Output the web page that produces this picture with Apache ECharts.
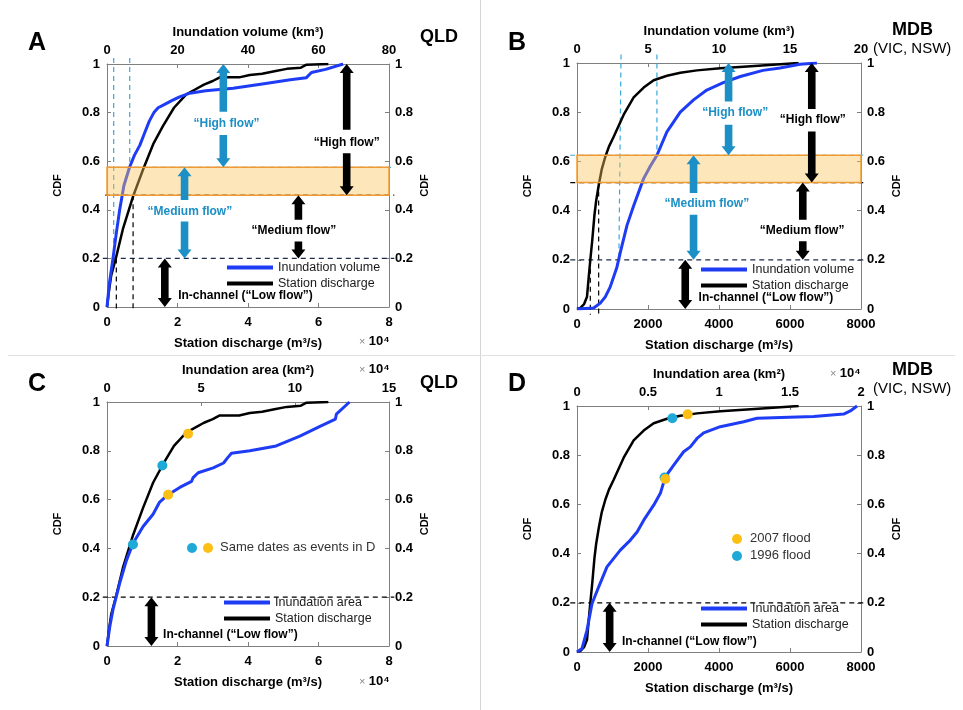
<!DOCTYPE html>
<html>
<head>
<meta charset="utf-8">
<script src="https://cdn.jsdelivr.net/npm/echarts@6/dist/echarts.min.js"></script>
<style>
html, body { margin: 0; padding: 0; background: #fff; }
#chart { width: 963px; height: 710px; }
</style>
</head>
<body>
<div id="chart"></div>
<script>
// CDF curves, pairs of [value, cdf]
// station discharge QLD, x 10^4 m3/s (panels A and C)
const qldDischarge = [[0,0],[0.05,0.06],[0.12,0.13],[0.25,0.2],[0.45,0.32],[0.74,0.455],[1.02,0.565],[1.31,0.67],[1.59,0.745],[1.9,0.82],[2.25,0.875],[2.5,0.895],[2.75,0.915],[3.0,0.93],[3.2,0.945],[3.75,0.945],[4.05,0.955],[4.4,0.96],[4.75,0.97],[5.1,0.98],[5.5,0.985],[5.66,0.997],[6.28,1.0]];
// inundation volume QLD, km3 (panel A)
const qldVolume = [[0,0],[0.7,0.1],[1.7,0.2],[2.6,0.3],[3.6,0.4],[4.8,0.5],[6.4,0.575],[7.8,0.625],[9.3,0.665],[10.5,0.71],[12,0.765],[13.3,0.8],[14.5,0.82],[16.5,0.835],[18.5,0.85],[20.6,0.865],[23.5,0.88],[28,0.89],[35.8,0.9],[45,0.92],[52,0.935],[56.5,0.943],[58,0.965],[62,0.978],[67,1.0]];
// inundation area QLD, x 10^4 km2 (panel C)
const qldArea = [[0,0],[0.15,0.08],[0.32,0.15],[0.67,0.256],[1.03,0.35],[1.38,0.42],[1.92,0.49],[2.45,0.54],[2.8,0.59],[3.25,0.62],[3.87,0.65],[4.5,0.675],[4.58,0.69],[4.85,0.71],[5.65,0.73],[6.2,0.75],[6.4,0.77],[6.62,0.79],[7.6,0.8],[9.0,0.82],[10.26,0.86],[11.33,0.9],[12.15,0.93],[12.2,0.95],[12.9,1.0]];
// station discharge MDB, m3/s (panels B and D)
const mdbDischarge = [[0,0],[90,0.004],[200,0.02],[282,0.05],[330,0.13],[375,0.2],[430,0.28],[490,0.38],[540,0.44],[620,0.51],[700,0.57],[800,0.62],[900,0.66],[1033,0.7],[1315,0.79],[1596,0.86],[1878,0.9],[2160,0.93],[2535,0.948],[2911,0.96],[3380,0.97],[4037,0.979],[4789,0.986],[5728,0.995],[6244,1.0]];
// inundation volume MDB, km3 (panel B)
const mdbVolume = [[0,0],[1.17,0.004],[1.64,0.024],[2.0,0.05],[2.34,0.09],[2.81,0.17],[3.05,0.23],[3.52,0.34],[3.99,0.42],[4.69,0.53],[5.16,0.58],[5.63,0.625],[6.33,0.72],[7.27,0.8],[8.21,0.85],[9.14,0.89],[10.3,0.92],[11.5,0.945],[13.1,0.97],[14.3,0.98],[15.7,0.995],[16.9,1.0]];
// inundation area MDB, x 10^4 km2 (panel D)
const mdbArea = [[0,0],[0.035,0.014],[0.07,0.088],[0.106,0.197],[0.153,0.265],[0.211,0.346],[0.305,0.414],[0.376,0.455],[0.423,0.488],[0.47,0.536],[0.54,0.597],[0.587,0.645],[0.622,0.712],[0.681,0.76],[0.751,0.814],[0.798,0.834],[0.845,0.868],[0.892,0.891],[1.009,0.916],[1.174,0.936],[1.268,0.95],[1.667,0.957],[1.878,0.967],[1.925,0.98],[1.972,1.0]];

// flood events (1996 = cyan, 2007 = orange)
const qld1996 = { discharge: [[1.57, 0.74]], area: [[1.38, 0.416]] };
const qld2007 = { discharge: [[2.3, 0.87]], area: [[3.25, 0.62]] };
const mdb1996 = { discharge: [[2685, 0.95]], area: [[0.617, 0.709]] };
const mdb2007 = { discharge: [[3117, 0.966]], area: [[0.622, 0.703]] };

// flow class thresholds (cdf)
const qldThresholds = { low: 0.2, medBlack: 0.46, medCyan: 0.575 };
const mdbThresholds = { low: 0.2, medBlack: 0.514, medCyan: 0.625 };

const blue = '#1f3cf5';
const cyan = '#1b8fc6';
const cyanDash = '#3aa8dc';
const orangeDot = '#fcbf13';
const cyanDot = '#1fa9d6';
const FONT = '"Liberation Sans", Arial, sans-serif';

const chart = echarts.init(document.getElementById('chart'));

const grids = [
  { left: 107, top: 64, width: 282, height: 243 },
  { left: 577, top: 63, width: 284, height: 246 },
  { left: 107, top: 402, width: 282, height: 244 },
  { left: 577, top: 406, width: 284, height: 246 }
];

const panels = [
  {
    xMax: 8, xStep: 2, tMax: 80, tStep: 20,
    xName: 'Station discharge (m³/s)', tName: 'Inundation volume (km³)',
    topName: 'Inundation volume', discharge: qldDischarge, inund: qldVolume,
    guides: [
      [-0.12, qldThresholds.low, 8.15, qldThresholds.low, '#1c2b4a'],
      [-0.05, qldThresholds.medBlack, 8.15, qldThresholds.medBlack, '#000'],
      [0, qldThresholds.medCyan, 8.15, qldThresholds.medCyan, cyanDash],
      [0.19, 1.025, 0.19, qldThresholds.low, cyanDash],
      [0.645, 1.025, 0.645, qldThresholds.medCyan, cyanDash],
      [0.265, qldThresholds.low, 0.265, -0.015, '#000'],
      [0.74, qldThresholds.medBlack, 0.74, -0.015, '#000']
    ],
    band: [0, qldThresholds.medBlack, 8, qldThresholds.medCyan],
    arrows: [
      { x: 3.3, y0: qldThresholds.medCyan, y1: 1, gap: [0.708, 0.804], color: cyan },
      { x: 2.2, y0: 0.2, y1: qldThresholds.medCyan, gap: [0.352, 0.44], color: cyan },
      { x: 6.8, y0: qldThresholds.medBlack, y1: 1, gap: [0.633, 0.729], color: '#000' },
      { x: 5.43, y0: 0.2, y1: qldThresholds.medBlack, gap: [0.27, 0.359], color: '#000' },
      { x: 1.64, y0: 0, y1: 0.2, color: '#000' }
    ],
    labels: [
      { x: 3.39, y: 0.756, text: '“High flow”', color: cyan },
      { x: 2.35, y: 0.393, text: '“Medium flow”', color: cyan },
      { x: 6.8, y: 0.677, text: '“High flow”', color: '#000' },
      { x: 5.3, y: 0.314, text: '“Medium flow”', color: '#000' },
      { x: 2.02, y: 0.047, text: 'In-channel (“Low flow”)', color: '#000', low: true }
    ]
  },
  {
    xMax: 8000, xStep: 2000, tMax: 20, tStep: 5,
    xName: 'Station discharge (m³/s)', tName: 'Inundation volume (km³)',
    topName: 'Inundation volume', discharge: mdbDischarge, inund: mdbVolume,
    guides: [
      [-190, mdbThresholds.low, 8075, mdbThresholds.low, '#1c2b4a'],
      [-190, mdbThresholds.medBlack, 8075, mdbThresholds.medBlack, '#000'],
      [-190, mdbThresholds.medCyan, 8075, mdbThresholds.medCyan, cyanDash],
      [1240, 1.035, 1180, mdbThresholds.low, cyanDash],
      [2251, 1.035, 2251, mdbThresholds.medCyan, cyanDash],
      [375, mdbThresholds.low, 375, -0.023, '#000'],
      [610, mdbThresholds.medBlack, 610, -0.023, '#000']
    ],
    band: [0, mdbThresholds.medBlack, 8000, mdbThresholds.medCyan],
    arrows: [
      { x: 4270, y0: mdbThresholds.medCyan, y1: 1, gap: [0.749, 0.844], color: cyan },
      { x: 3283, y0: 0.2, y1: mdbThresholds.medCyan, gap: [0.383, 0.472], color: cyan },
      { x: 6613, y0: mdbThresholds.medBlack, y1: 1, gap: [0.722, 0.813], color: '#000' },
      { x: 6360, y0: 0.2, y1: mdbThresholds.medBlack, gap: [0.275, 0.363], color: '#000' },
      { x: 3049, y0: 0, y1: 0.2, color: '#000' }
    ],
    labels: [
      { x: 4456, y: 0.797, text: '“High flow”', color: cyan },
      { x: 3658, y: 0.43, text: '“Medium flow”', color: cyan },
      { x: 6640, y: 0.77, text: '“High flow”', color: '#000' },
      { x: 6340, y: 0.318, text: '“Medium flow”', color: '#000' },
      { x: 3424, y: 0.047, text: 'In-channel (“Low flow”)', color: '#000', low: true }
    ]
  },
  {
    xMax: 8, xStep: 2, tMax: 15, tStep: 5,
    xName: 'Station discharge (m³/s)', tName: 'Inundation area (km²)',
    topName: 'Inundation area', discharge: qldDischarge, inund: qldArea,
    ev1996: qld1996, ev2007: qld2007,
    guides: [
      [-0.12, qldThresholds.low, 8.15, qldThresholds.low, '#000']
    ],
    arrows: [
      { x: 1.26, y0: 0, y1: 0.2, color: '#000' }
    ],
    labels: [
      { x: 1.59, y: 0.047, text: 'In-channel (“Low flow”)', color: '#000', low: true }
    ]
  },
  {
    xMax: 8000, xStep: 2000, tMax: 2, tStep: 0.5,
    xName: 'Station discharge (m³/s)', tName: 'Inundation area (km²)',
    topName: 'Inundation area', discharge: mdbDischarge, inund: mdbArea,
    ev1996: mdb1996, ev2007: mdb2007,
    guides: [
      [-190, mdbThresholds.low, 8075, mdbThresholds.low, '#000']
    ],
    arrows: [
      { x: 920, y0: 0, y1: 0.2, color: '#000' }
    ],
    labels: [
      { x: 1268, y: 0.043, text: 'In-channel (“Low flow”)', color: '#000', low: true }
    ]
  }
];

const axisLine = { show: true, onZero: false, lineStyle: { color: '#7f7f7f', width: 1 } };
const axisTick = { show: true, inside: true, length: 4, lineStyle: { color: '#7f7f7f' } };
const tickFont = { color: '#000', fontFamily: FONT, fontWeight: 'bold', fontSize: 13 };
const nameFont = { color: '#000', fontFamily: FONT, fontWeight: 'bold', fontSize: 13 };
const cdfFont = { color: '#000', fontFamily: FONT, fontWeight: 'bold', fontSize: 11 };

const xAxes = [], yAxes = [], series = [];

function guideRender(list) {
  return function (params, api) {
    const g = list[params.dataIndex];
    const p0 = api.coord([g[0], g[1]]), p1 = api.coord([g[2], g[3]]);
    return {
      type: 'line',
      shape: { x1: p0[0], y1: p0[1], x2: p1[0], y2: p1[1] },
      style: { stroke: g[4], lineWidth: 1.2, lineDash: [5, 4] }
    };
  };
}

function bandRender(b) {
  return function (params, api) {
    const p0 = api.coord([b[0], b[1]]), p1 = api.coord([b[2], b[3]]);
    return {
      type: 'rect',
      shape: { x: p0[0], y: p1[1], width: p1[0] - p0[0], height: p0[1] - p1[1] },
      style: { fill: 'rgba(251, 196, 90, 0.42)', stroke: '#f29a32', lineWidth: 1.5 }
    };
  };
}

function arrowRender(list) {
  return function (params, api) {
    const a = list[params.dataIndex];
    const sw = 3.8, hw = 7, hl = 9;
    const top = api.coord([a.x, a.y1]), bot = api.coord([a.x, a.y0]);
    const cx = top[0];
    const pieces = [];
    const t = top[1], b = bot[1];
    if (a.gap) {
      const gTop = api.coord([a.x, a.gap[1]])[1];
      const gBot = api.coord([a.x, a.gap[0]])[1];
      pieces.push([[cx - sw, gTop], [cx - sw, t + hl], [cx - hw, t + hl], [cx, t], [cx + hw, t + hl], [cx + sw, t + hl], [cx + sw, gTop]]);
      pieces.push([[cx - sw, gBot], [cx - sw, b - hl], [cx - hw, b - hl], [cx, b], [cx + hw, b - hl], [cx + sw, b - hl], [cx + sw, gBot]]);
    } else {
      pieces.push([[cx - sw, b - hl], [cx - sw, t + hl], [cx - hw, t + hl], [cx, t], [cx + hw, t + hl], [cx + sw, t + hl],
        [cx + sw, b - hl], [cx + hw, b - hl], [cx, b], [cx - hw, b - hl]]);
    }
    return {
      type: 'group',
      children: pieces.map(p => ({ type: 'polygon', shape: { points: p }, style: { fill: a.color } }))
    };
  };
}

function labelRender(list) {
  return function (params, api) {
    const l = list[params.dataIndex];
    const p = api.coord([l.x, l.y]);
    return {
      type: 'text',
      x: p[0], y: p[1],
      style: {
        text: l.text,
        fill: l.color,
        fontFamily: FONT,
        fontWeight: 'bold',
        fontSize: 12,
        align: l.low ? 'left' : 'center',
        verticalAlign: 'middle'
      }
    };
  };
}

panels.forEach((p, k) => {
  const bx = 2 * k, tx = 2 * k + 1, ly = 2 * k;
  xAxes.push({
    gridIndex: k, type: 'value', position: 'bottom', min: 0, max: p.xMax, interval: p.xStep,
    name: p.xName, nameLocation: 'middle', nameGap: 30, nameTextStyle: nameFont,
    axisLine, axisTick, splitLine: { show: false },
    axisLabel: Object.assign({ margin: 9, formatter: v => String(v) }, tickFont)
  });
  xAxes.push({
    gridIndex: k, type: 'value', position: 'top', min: 0, max: p.tMax, interval: p.tStep,
    name: p.tName, nameLocation: 'middle', nameGap: 25, nameTextStyle: nameFont,
    axisLine, axisTick, splitLine: { show: false },
    axisLabel: Object.assign({ margin: 7, formatter: v => String(v) }, tickFont)
  });
  yAxes.push({
    gridIndex: k, type: 'value', position: 'left', min: 0, max: 1, interval: 0.2,
    name: 'CDF', nameLocation: 'middle', nameGap: 44, nameRotate: 90, nameTextStyle: cdfFont,
    axisLine, axisTick, splitLine: { show: false },
    axisLabel: Object.assign({ margin: 7 }, tickFont)
  });
  yAxes.push({
    gridIndex: k, type: 'value', position: 'right', min: 0, max: 1, interval: 0.2,
    name: 'CDF', nameLocation: 'middle', nameGap: 30, nameRotate: 90, nameTextStyle: cdfFont,
    axisLine, axisTick, splitLine: { show: false },
    axisLabel: Object.assign({ margin: 6 }, tickFont)
  });

  series.push({
    type: 'custom', name: 'guides' + k, xAxisIndex: bx, yAxisIndex: ly, z: 1, silent: true,
    renderItem: guideRender(p.guides), data: p.guides.map(g => [g[0], g[1]])
  });
  series.push({
    type: 'line', name: p.topName, xAxisIndex: tx, yAxisIndex: ly, z: 3,
    data: p.inund, showSymbol: false, color: blue, lineStyle: { width: 3, color: blue }
  });
  series.push({
    type: 'line', name: 'Station discharge', xAxisIndex: bx, yAxisIndex: ly, z: 2,
    data: p.discharge, showSymbol: false, color: '#000', lineStyle: { width: 2.5, color: '#000' }
  });
  if (p.band) {
    series.push({
      type: 'custom', name: 'band' + k, xAxisIndex: bx, yAxisIndex: ly, z: 4, silent: true,
      renderItem: bandRender(p.band), data: [[p.band[0], p.band[1]]]
    });
  }
  series.push({
    type: 'custom', name: 'arrows' + k, xAxisIndex: bx, yAxisIndex: ly, z: 5, silent: true,
    renderItem: arrowRender(p.arrows), data: p.arrows.map(a => [a.x, a.y0])
  });
  series.push({
    type: 'custom', name: 'labels' + k, xAxisIndex: bx, yAxisIndex: ly, z: 6, silent: true,
    renderItem: labelRender(p.labels), data: p.labels.map(l => [l.x, l.y])
  });
  if (p.ev1996) {
    const dot = (data, xi, color) => ({
      type: 'scatter', name: 'event' + k + xi + color, xAxisIndex: xi, yAxisIndex: ly, z: 7,
      data, symbolSize: 10, itemStyle: { color, opacity: 1 }
    });
    series.push(dot(p.ev1996.discharge, bx, cyanDot));
    series.push(dot(p.ev2007.discharge, bx, orangeDot));
    series.push(dot(p.ev1996.area, tx, cyanDot));
    series.push(dot(p.ev2007.area, tx, orangeDot));
  }
});

const legendPos = [[222, 256], [696, 258], [219, 591], [696, 597]];
const legends = panels.map((p, k) => ({
  orient: 'vertical', left: legendPos[k][0], top: legendPos[k][1],
  data: [p.topName, 'Station discharge'],
  icon: 'rect', itemWidth: 46, itemHeight: 4, itemGap: 3,
  selectedMode: false,
  textStyle: { color: '#1a1a1a', fontFamily: FONT, fontSize: 12.5, padding: [0, 0, 0, 0] }
}));

const letterStyle = { fill: '#000', font: 'bold 25px ' + FONT };
const regionStyle = { fill: '#000', font: 'bold 18px ' + FONT };
const subStyle = { fill: '#000', font: '15px ' + FONT };
const tenPow = (x, y) => ({
  type: 'text', left: x, top: y,
  style: {
    text: '{x|×} {t|10⁴}',
    rich: {
      x: { fill: '#888', fontSize: 11, fontFamily: FONT },
      t: { fill: '#000', fontSize: 13, fontWeight: 'bold', fontFamily: FONT }
    }
  }
});

const graphic = [
  { type: 'line', shape: { x1: 480.5, y1: 0, x2: 480.5, y2: 710 }, style: { stroke: '#d4d4d4', lineWidth: 1 } },
  { type: 'line', shape: { x1: 8, y1: 355.5, x2: 955, y2: 355.5 }, style: { stroke: '#e2e2e2', lineWidth: 1 } },
  { type: 'text', left: 28, top: 31, style: Object.assign({ text: 'A' }, letterStyle) },
  { type: 'text', left: 508, top: 31, style: Object.assign({ text: 'B' }, letterStyle) },
  { type: 'text', left: 28, top: 372, style: Object.assign({ text: 'C' }, letterStyle) },
  { type: 'text', left: 508, top: 372, style: Object.assign({ text: 'D' }, letterStyle) },
  { type: 'text', left: 420, top: 28, style: Object.assign({ text: 'QLD' }, regionStyle) },
  { type: 'text', left: 420, top: 374, style: Object.assign({ text: 'QLD' }, regionStyle) },
  { type: 'text', left: 892, top: 21, style: Object.assign({ text: 'MDB' }, regionStyle) },
  { type: 'text', left: 873, top: 41, style: Object.assign({ text: '(VIC, NSW)' }, subStyle) },
  { type: 'text', left: 892, top: 361, style: Object.assign({ text: 'MDB' }, regionStyle) },
  { type: 'text', left: 873, top: 381, style: Object.assign({ text: '(VIC, NSW)' }, subStyle) },
  tenPow(359, 335),
  tenPow(359, 363),
  tenPow(359, 675),
  tenPow(830, 367),
  { type: 'circle', shape: { cx: 192, cy: 548, r: 5 }, style: { fill: cyanDot } },
  { type: 'circle', shape: { cx: 208, cy: 548, r: 5 }, style: { fill: orangeDot } },
  { type: 'text', left: 220, top: 541, style: { text: 'Same dates as events in D', fill: '#333', font: '13px ' + FONT } },
  { type: 'circle', shape: { cx: 737, cy: 539, r: 5 }, style: { fill: orangeDot } },
  { type: 'text', left: 750, top: 532, style: { text: '2007 flood', fill: '#333', font: '13px ' + FONT } },
  { type: 'circle', shape: { cx: 737, cy: 556, r: 5 }, style: { fill: cyanDot } },
  { type: 'text', left: 750, top: 549, style: { text: '1996 flood', fill: '#333', font: '13px ' + FONT } }
];

chart.setOption({
  animation: false,
  backgroundColor: '#fff',
  grid: grids,
  xAxis: xAxes,
  yAxis: yAxes,
  legend: legends,
  graphic,
  series
});
</script>
</body>
</html>
